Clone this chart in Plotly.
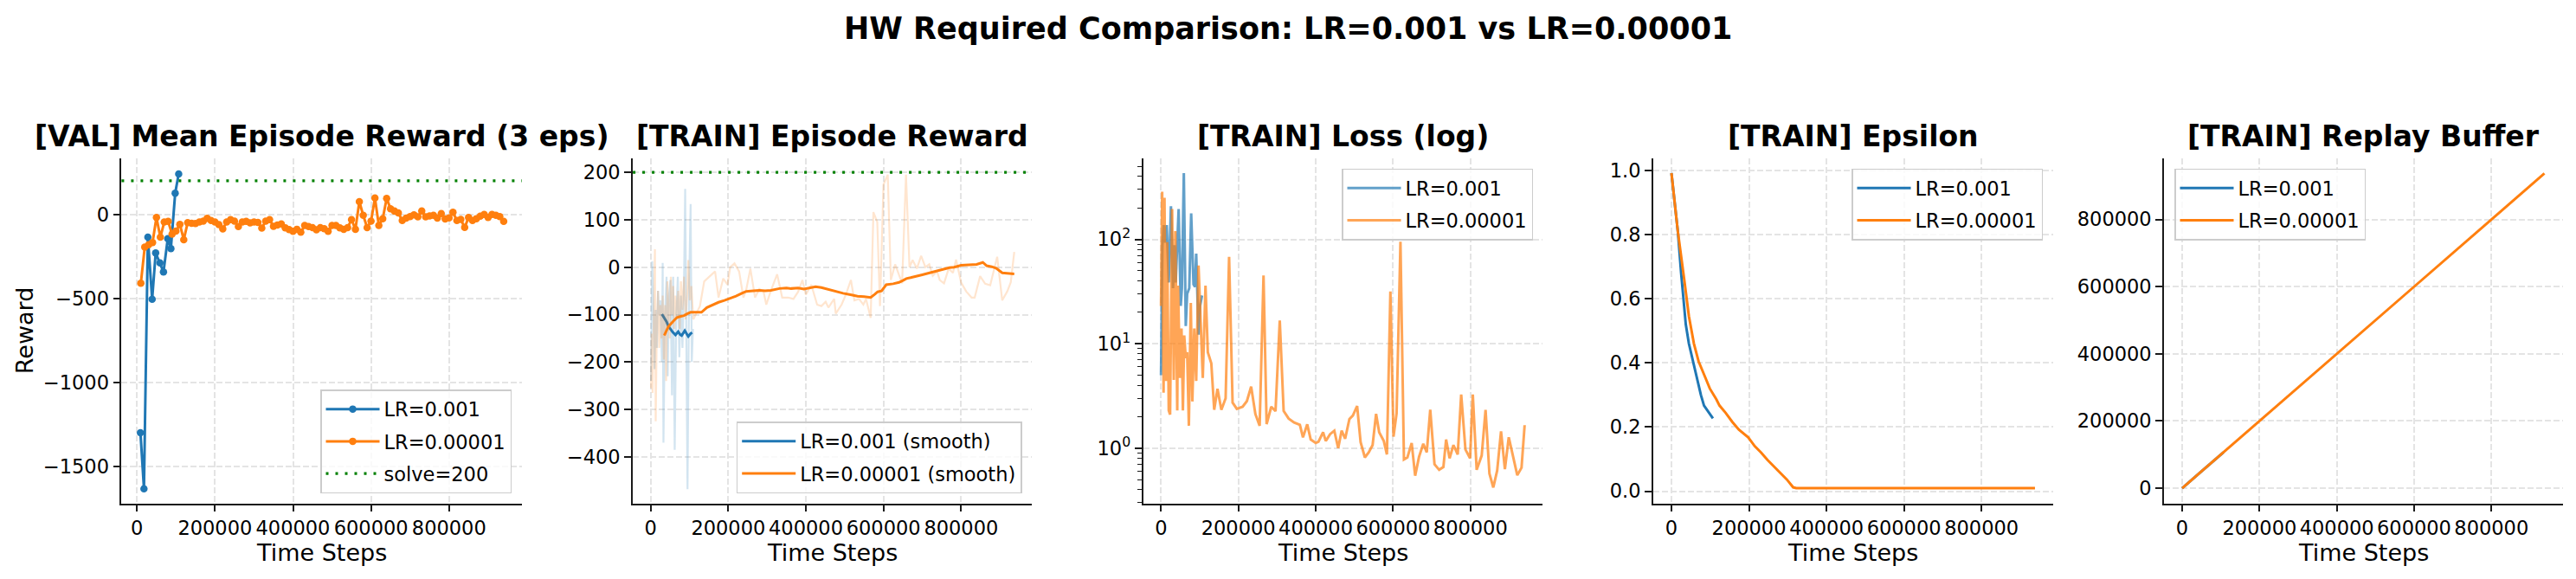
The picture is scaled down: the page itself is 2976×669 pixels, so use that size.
import plotly.graph_objects as go

# ---------------- data ----------------
val_lr1_steps = [9000, 18000, 28000, 39000, 48000, 59000, 68000, 79000, 87000, 98000, 107000]
val_lr1_reward = [-1297, -1630, -135, -504, -229, -288, -342, -144, -203, 126, 240]

val_lr2_steps = [10000, 20000, 30000, 40000, 50000, 60000, 70000, 80000, 90000, 100000,
                 110000, 120000, 130000, 140000, 150000, 160000, 170000, 180000, 190000, 200000,
                 210000, 220000, 230000, 240000, 250000, 260000, 270000, 280000, 290000, 300000,
                 310000, 320000, 330000, 340000, 350000, 360000, 370000, 380000, 390000, 400000,
                 410000, 420000, 430000, 440000, 450000, 460000, 470000, 480000, 490000, 500000,
                 510000, 520000, 530000, 540000, 550000, 560000, 570000, 580000, 590000, 600000,
                 610000, 620000, 630000, 640000, 650000, 660000, 670000, 680000, 690000, 700000,
                 710000, 720000, 730000, 740000, 750000, 760000, 770000, 780000, 790000, 800000,
                 810000, 820000, 830000, 840000, 850000, 860000, 870000, 880000, 890000, 900000,
                 910000, 920000, 930000, 940000]
val_lr2_reward = [-409, -194, -180, -167, -18, -135, -45, -41, -117, -99,
                  -59, -150, -49, -52, -54, -45, -40, -23, -36, -45,
                  -60, -86, -45, -31, -40, -72, -45, -41, -50, -45,
                  -48, -81, -40, -31, -71, -63, -57, -79, -90, -100,
                  -88, -105, -66, -72, -78, -91, -78, -85, -100, -66,
                  -66, -80, -88, -78, -31, -88, 76, -5, -78, -40,
                  98, -66, -26, 95, 34, 20, 9, -36, -22, -13,
                  -2, -14, 21, -14, -9, -5, -22, 5, -27, -20,
                  13, -36, -30, -77, -18, -36, -25, -10, 0, -18,
                  0, -5, -13, -41]

SOLVE = 200

train_lr1_steps = [1000, 4000, 7000, 10000, 13000, 16000, 19000, 22000, 25000, 29000, 31000,
                   33000, 37000, 41000, 44000, 47000, 51000, 55000, 58000, 62000, 66000, 70000,
                   74000, 78000, 82000, 86000, 89000, 92000, 95000, 99000, 103000, 106000, 109000]
train_lr1_reward = [-240, 12, -80, -215, -90, -170, -50, -100, -70, -200, 9,
                    -370, -100, -20, -230, -60, -27, -270, -20, -385, -100, -20,
                    -190, -60, -170, -30, 165, -100, -468, -40, 133, -200, -130]

train_lr2_steps = [1000, 3000, 5000, 8000, 11000, 13000, 16000, 19000, 22000, 25000, 28000,
                   31000, 34000, 37000, 40000, 43000, 46000, 49000, 52000, 55000, 58000, 61000,
                   64000, 68000, 71000, 75000, 78000, 82000, 86000, 90000, 94000, 97000, 101000,
                   105000, 110000, 127000, 138000, 149000, 166000, 175000, 187000, 198000, 205000,
                   216000, 228000, 239000, 246000, 257000, 269000, 280000, 291000, 298000, 310000,
                   326000, 339000, 354000, 368000, 380000, 391000, 400000, 414000, 429000, 440000,
                   451000, 458000, 473000, 477000, 492000, 503000, 516000, 525000, 537000, 548000,
                   555000, 567000, 574000, 584000, 591000, 600000, 611000, 619000, 630000, 637000,
                   648000, 658000, 667000, 675000, 686000, 697000, 708000, 718000, 727000, 738000,
                   745000, 756000, 768000, 779000, 787000, 800000, 813000, 827000, 835000, 849000,
                   862000, 875000, 893000, 906000, 919000, 928000, 937000]
train_lr2_reward = [-255, -140, -265, -60, 38, -325, -120, -50, -170, -80, -150,
                    -60, -195, -80, -240, -30, -110, -150, -20, -100, -40, -130,
                    -60, -110, -50, -130, -30, -90, -20, -110, -60, 15, -70,
                    -40, -110, -82, -30, -21, -9, -64, -24, -37, 0,
                    8, -9, -64, -49, -3, -64, -46, -52, -79, -49,
                    -15, -64, -64, -67, -52, -27, -58, -37, -79, -82,
                    -73, -85, -67, -98, -79, -58, -27, -70, -67, -79,
                    -67, -107, 116, 95, -82, 174, 195, -27, 6, -9,
                    -34, 195, 0, 15, -3, 24, 0, 6, -18, -9,
                    -27, -34, -3, -12, 16, -32, -51, -64, -64, -19,
                    -35, -38, 22, -70, -51, -32, 32]

smooth_lr1_steps = [29000, 32000, 36000, 41000, 46000, 52000, 57000, 64000, 71000, 76000,
                    80000, 88000, 92000, 97000, 103000, 107000]
smooth_lr1_reward = [-99, -103, -108, -115, -125, -132, -137, -143, -136, -142,
                     -144, -134, -140, -146, -140, -138]

smooth_lr2_steps = [35000, 46000, 57000, 68000, 76000, 86000, 95000, 103000, 120000, 131000,
                    145000, 160000, 175000, 190000, 205000, 220000, 235000, 246000, 265000, 280000,
                    295000, 310000, 332000, 350000, 362000, 380000, 395000, 410000, 425000, 440000,
                    458000, 475000, 496000, 515000, 533000, 550000, 567000, 578000, 585000, 595000,
                    607000, 625000, 640000, 650000, 659000, 670000, 682000, 700000, 719000, 740000,
                    756000, 770000, 782000, 800000, 820000, 840000, 856000, 866000, 879000, 890000,
                    906000, 920000, 937000]
smooth_lr2_reward = [-144, -125, -115, -106, -104, -102, -98, -95, -95, -95,
                     -85, -79, -74, -70, -66, -61, -55, -51, -50, -49,
                     -50, -49, -45, -44, -45, -44, -46, -43, -41, -43,
                     -47, -51, -55, -58, -61, -62, -64, -57, -52, -50,
                     -37, -35, -32, -28, -24, -22, -20, -16, -12, -7,
                     -4, -1, 0, 4, 5, 6, 10, 3, 1, -2,
                     -12, -13, -14]

loss_lr1_steps = [0, 3700, 7000, 11000, 14700, 20000, 25700, 31000, 34600, 38000, 45600, 51000,
                  54000, 59000, 64000, 67600, 73000, 78000, 84000, 88000, 91000, 97000, 101000, 106000]
loss_lr1 = [5.0, 88, 137, 93, 137, 38.6, 207, 34, 88, 38.6, 195, 23,
            34, 430, 14.8, 30, 34, 177, 37, 35, 73, 12.2, 23, 29]

loss_lr2_steps = [0, 3000, 6600, 9000, 12500, 16000, 20000, 23500, 28700, 33000, 37000, 42000,
                  44000, 49000, 53000, 56600, 60000, 64000, 67600, 72000, 77000, 81000, 86000, 91000,
                  97000, 108000, 115000, 121000, 130000, 137500, 146000, 156000, 167000, 176000, 185000,
                  196000, 211000, 222000, 233000, 244000, 255000, 265000, 273000, 285000, 296000,
                  307000, 317000, 330000, 344000, 359000, 367000, 378000, 387000, 400000, 407000,
                  419000, 426000, 437000, 448000, 458000, 467000, 476000, 487000, 496000, 507000,
                  516000, 527000, 537000, 547000, 556000, 564000, 576000, 584000, 593000, 601000,
                  609000, 619000, 628000, 637000, 648000, 657000, 667000, 678000, 687000, 696000,
                  707000, 719000, 730000, 737000, 746000, 756000, 767000, 776000, 787000, 799000,
                  806000, 816000, 829000, 839000, 849000, 859000, 869000, 879000, 889000, 899000,
                  910000, 921000, 932000, 940000]
loss_lr2 = [23, 285, 3.4, 250, 4.4, 94, 2.3, 2.1, 195, 4.5, 120, 2.3,
            36, 4.7, 14, 2.3, 12, 7.3, 8.3, 1.64, 24.6, 2.8, 14, 4.4,
            56, 4.7, 36, 8.3, 6.5, 2.33, 3.7, 2.33, 3.0, 68, 2.73,
            2.38, 2.49, 2.82, 3.88, 2.12, 1.64, 45, 1.7, 2.49, 2.26,
            16.7, 2.27, 1.92, 1.76, 1.67, 1.27, 1.69, 1.21, 1.12, 1.15,
            1.42, 1.17, 1.36, 1.47, 1.0, 1.47, 1.23, 1.9, 2.05, 2.53,
            1.14, 0.815, 0.91, 1.07, 2.13, 1.42, 1.17, 0.87, 31.6, 1.29,
            2.15, 95, 0.78, 0.815, 1.12, 0.545, 0.825, 1.10, 0.91, 2.33,
            0.70, 0.62, 0.66, 1.21, 0.80, 1.07, 0.87, 3.26, 0.97, 0.80,
            3.26, 0.62, 0.85, 2.32, 0.57, 0.42, 0.61, 1.45, 0.63, 1.27,
            0.82, 0.55, 0.65, 1.66]

eps_lr1_steps = [0, 16500, 25000, 37000, 45000, 58000, 66000, 76000, 84000, 95000, 107000]
eps_lr1 = [0.992, 0.81, 0.68, 0.52, 0.46, 0.395, 0.348, 0.30, 0.267, 0.249, 0.227]

eps_lr2_steps = [0, 16500, 33000, 45000, 58000, 70000, 83000, 99000, 116000, 124000, 140000,
                 157000, 174000, 198000, 215000, 231000, 248000, 264000, 281000, 298000, 314000,
                 322000, 938000]
eps_lr2 = [0.992, 0.81, 0.66, 0.546, 0.46, 0.405, 0.367, 0.32, 0.286, 0.267, 0.244,
           0.216, 0.192, 0.168, 0.14, 0.121, 0.097, 0.078, 0.055, 0.036, 0.012,
           0.0095, 0.0095]

buf_lr1_steps = [0, 50000, 107000]
buf_lr1 = [0, 50000, 107000]
buf_lr2_steps = [0, 200000, 400000, 600000, 800000, 937000]
buf_lr2 = [0, 200000, 400000, 600000, 800000, 937000]

x_ticks = [0, 200000, 400000, 600000, 800000]
panel_titles = ["[VAL] Mean Episode Reward (3 eps)", "[TRAIN] Episode Reward",
                "[TRAIN] Loss (log)", "[TRAIN] Epsilon", "[TRAIN] Replay Buffer"]
suptitle = "HW Required Comparison: LR=0.001 vs LR=0.00001"

# ---------------- layout geometry (pixels) ----------------
W, H = 2976, 669
BLUE, ORANGE, GREEN = '#1f77b4', '#ff7f0e', '#008000'
FONT = 'DejaVu Sans'
TICK_SIZE = 22.5
lefts = [140.4, 731.1, 1320.6, 1909.9, 2500.1]
rights = [603.0, 1192.2, 1781.8, 2372.0, 2960.8]
TOP, BOTTOM = 183.0, 581.5
x_ranges = [[-39500, 986800], [-45900, 982600], [-46300, 985700], [-47100, 985000], [-46800, 984700]]
y_ranges = [[-1716, 333], [-497.8, 229.4], [-0.528, 2.775], [-0.0378, 1.0378], [-45000, 982000]]


def fx(p):
    return p / W


def fy(p):
    return 1 - p / H


fig = go.Figure()

# Panel 1
fig.add_trace(go.Scatter(x=val_lr1_steps, y=val_lr1_reward, mode='lines+markers', name='LR=0.001',
                         line=dict(color=BLUE, width=3), marker=dict(size=8.5, color=BLUE),
                         xaxis='x', yaxis='y', legend='legend', legendgroup='a1'))
fig.add_trace(go.Scatter(x=val_lr2_steps, y=val_lr2_reward, mode='lines+markers', name='LR=0.00001',
                         line=dict(color=ORANGE, width=3), marker=dict(size=8.5, color=ORANGE),
                         xaxis='x', yaxis='y', legend='legend', legendgroup='a2'))
fig.add_trace(go.Scatter(x=[None], y=[None], mode='lines', name='solve=200',
                         line=dict(color=GREEN, width=3.2, dash='3px,8px'),
                         xaxis='x', yaxis='y', legend='legend', legendgroup='a3'))

# Panel 2
fig.add_trace(go.Scatter(x=train_lr1_steps, y=train_lr1_reward, mode='lines', showlegend=False,
                         line=dict(color='rgba(31,119,180,0.2)', width=2.2), xaxis='x2', yaxis='y2'))
fig.add_trace(go.Scatter(x=smooth_lr1_steps, y=smooth_lr1_reward, mode='lines', name='LR=0.001 (smooth)',
                         line=dict(color=BLUE, width=3), xaxis='x2', yaxis='y2', legend='legend2',
                         legendgroup='b1'))
fig.add_trace(go.Scatter(x=train_lr2_steps, y=train_lr2_reward, mode='lines', showlegend=False,
                         line=dict(color='rgba(255,127,14,0.2)', width=2.2), xaxis='x2', yaxis='y2'))
fig.add_trace(go.Scatter(x=smooth_lr2_steps, y=smooth_lr2_reward, mode='lines', name='LR=0.00001 (smooth)',
                         line=dict(color=ORANGE, width=3), xaxis='x2', yaxis='y2', legend='legend2',
                         legendgroup='b2'))

# Panel 3
fig.add_trace(go.Scatter(x=loss_lr1_steps, y=loss_lr1, mode='lines', name='LR=0.001',
                         line=dict(color='rgba(31,119,180,0.7)', width=3), xaxis='x3', yaxis='y3',
                         legend='legend3', legendgroup='c1'))
fig.add_trace(go.Scatter(x=loss_lr2_steps, y=loss_lr2, mode='lines', name='LR=0.00001',
                         line=dict(color='rgba(255,127,14,0.7)', width=3), xaxis='x3', yaxis='y3',
                         legend='legend3', legendgroup='c2'))

# Panel 4
fig.add_trace(go.Scatter(x=eps_lr1_steps, y=eps_lr1, mode='lines', name='LR=0.001',
                         line=dict(color=BLUE, width=3), xaxis='x4', yaxis='y4', legend='legend4',
                         legendgroup='d1'))
fig.add_trace(go.Scatter(x=eps_lr2_steps, y=eps_lr2, mode='lines', name='LR=0.00001',
                         line=dict(color=ORANGE, width=3), xaxis='x4', yaxis='y4', legend='legend4',
                         legendgroup='d2'))

# Panel 5
fig.add_trace(go.Scatter(x=buf_lr1_steps, y=buf_lr1, mode='lines', name='LR=0.001',
                         line=dict(color=BLUE, width=3), xaxis='x5', yaxis='y5', legend='legend5',
                         legendgroup='e1'))
fig.add_trace(go.Scatter(x=buf_lr2_steps, y=buf_lr2, mode='lines', name='LR=0.00001',
                         line=dict(color=ORANGE, width=3), xaxis='x5', yaxis='y5', legend='legend5',
                         legendgroup='e2'))

# solve lines (panels 1 & 2)
for yref, xref in [('y', 'x'), ('y2', 'x2')]:
    fig.add_shape(type='line', xref=xref + ' domain', yref=yref, x0=0, x1=1, y0=SOLVE, y1=SOLVE,
                  line=dict(color=GREEN, width=3.2, dash='3px,8px'))

axis_common = dict(showline=True, linecolor='#1a1a1a', linewidth=1.8, ticks='outside', ticklen=8,
                   tickwidth=1.8, tickcolor='#1a1a1a',
                   tickfont=dict(family=FONT, size=TICK_SIZE, color='black'),
                   showgrid=True, gridcolor='#e4e4e4', gridwidth=1.8, griddash='7px,3px',
                   zeroline=False, mirror=False)

layout = dict(width=W, height=H, margin=dict(l=0, r=0, t=0, b=0), plot_bgcolor='white',
              paper_bgcolor='white', font=dict(family=FONT, color='black'))

y_tick_cfg = [
    dict(tickvals=[-1500, -1000, -500, 0], ticktext=['\u22121500', '\u22121000', '\u2212500', '0']),
    dict(tickvals=[-400, -300, -200, -100, 0, 100, 200],
         ticktext=['\u2212400', '\u2212300', '\u2212200', '\u2212100', '0', '100', '200']),
    dict(type='log', tickvals=[1, 10, 100], ticktext=['10<sup>0</sup>', '10<sup>1</sup>', '10<sup>2</sup>'],
         minor=dict(ticks='outside', ticklen=4.5, tickwidth=1.2, tickcolor='#1a1a1a', showgrid=False,
                    tickvals=[m * d for d in [0.1, 1, 10, 100] for m in range(2, 10)
                              if 0.29 < m * d < 600])),
    dict(tickvals=[0.0, 0.2, 0.4, 0.6, 0.8, 1.0], tickformat='.1f'),
    dict(tickvals=[0, 200000, 400000, 600000, 800000], tickformat='d'),
]

for i in range(5):
    sfx = '' if i == 0 else str(i + 1)
    xa = dict(axis_common)
    xa.update(domain=[fx(lefts[i]), fx(rights[i])], anchor='y' + sfx, range=x_ranges[i],
              tickvals=x_ticks, tickformat='d', tickangle=0)
    ya = dict(axis_common)
    ya.update(domain=[fy(BOTTOM), fy(TOP)], anchor='x' + sfx, range=y_ranges[i])
    ya.update(y_tick_cfg[i])
    layout['xaxis' + sfx] = xa
    layout['yaxis' + sfx] = ya

legend_common = dict(bgcolor='rgba(255,255,255,0.8)', bordercolor='#cccccc', borderwidth=1.5,
                     font=dict(family=FONT, size=TICK_SIZE, color='black'), itemwidth=62,
                     tracegroupgap=5)
layout['legend'] = dict(legend_common, x=fx(591), y=fy(570), xanchor='right', yanchor='bottom')
layout['legend2'] = dict(legend_common, x=fx(1180.7), y=fy(570), xanchor='right', yanchor='bottom')
layout['legend3'] = dict(legend_common, x=fx(1771), y=fy(194.6), xanchor='right', yanchor='top')
layout['legend4'] = dict(legend_common, x=fx(2360), y=fy(194.6), xanchor='right', yanchor='top')
layout['legend5'] = dict(legend_common, x=fx(2512), y=fy(194.6), xanchor='left', yanchor='top')

annotations = []
for i in range(5):
    cx = (lefts[i] + rights[i]) / 2
    annotations.append(dict(text='<b>' + panel_titles[i] + '</b>', x=fx(cx), y=fy(158), xref='paper',
                            yref='paper', xanchor='center', yanchor='middle', showarrow=False,
                            font=dict(family=FONT, size=33, color='black')))
    annotations.append(dict(text='Time Steps', x=fx(cx), y=fy(638), xref='paper', yref='paper',
                            xanchor='center', yanchor='middle', showarrow=False,
                            font=dict(family=FONT, size=27, color='black')))
annotations.append(dict(text='Reward', x=fx(28), y=fy((TOP + BOTTOM) / 2), xref='paper', yref='paper',
                        xanchor='center', yanchor='middle', textangle=-90, showarrow=False,
                        font=dict(family=FONT, size=27, color='black')))
annotations.append(dict(text='<b>' + suptitle + '</b>', x=fx(1488), y=fy(33), xref='paper', yref='paper',
                        xanchor='center', yanchor='middle', showarrow=False,
                        font=dict(family=FONT, size=35, color='black')))
layout['annotations'] = annotations

fig.update_layout(**layout)
fig.write_html("out.html")
